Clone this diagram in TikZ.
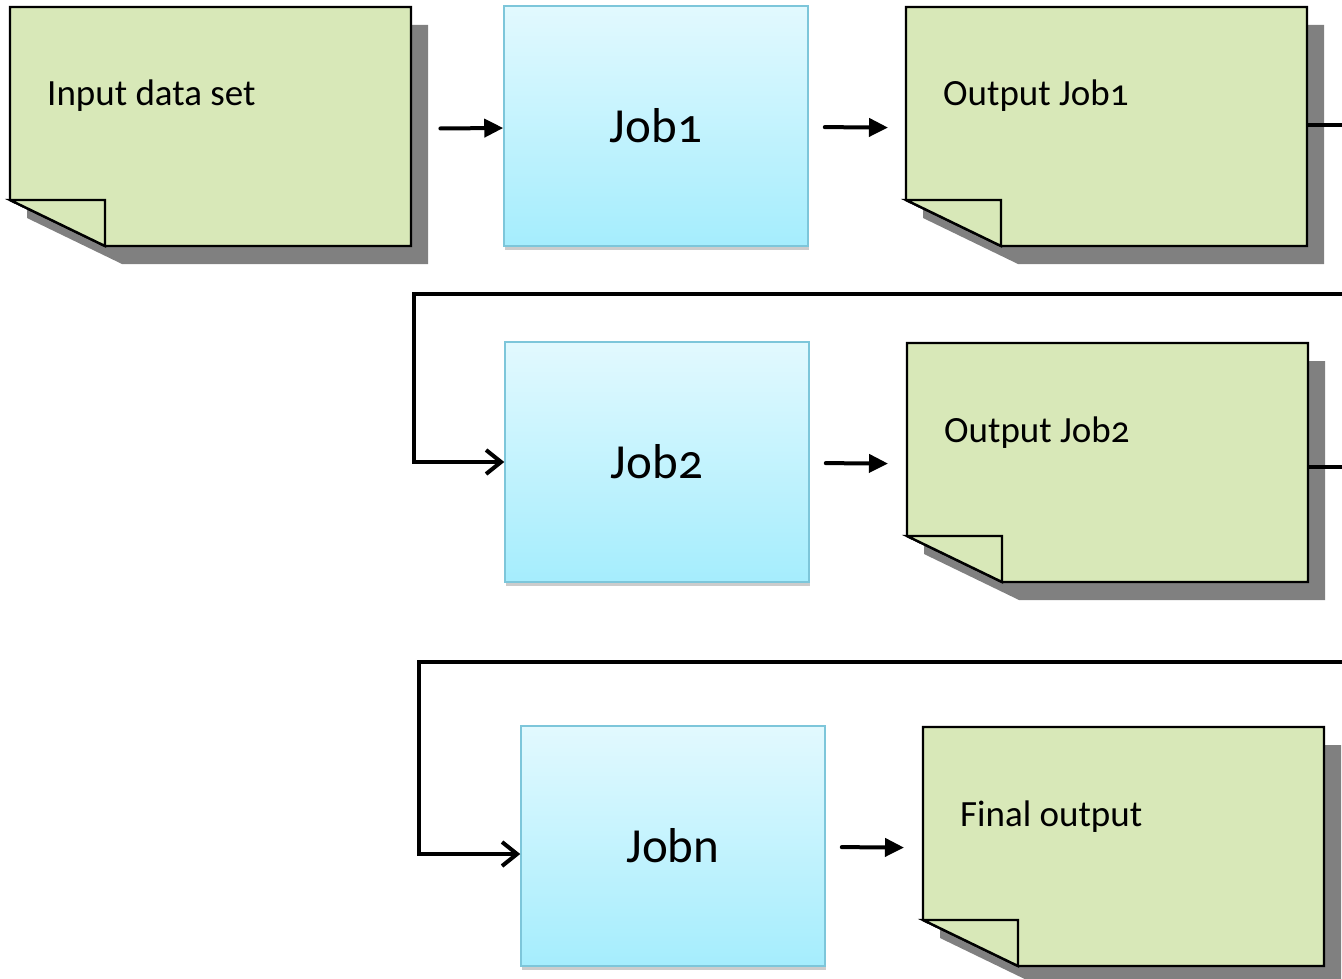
\documentclass[tikz,border=0pt]{standalone}
\usepackage{fontspec}
\setmainfont{Carlito}[Numbers=OldStyle]
\usetikzlibrary{
    arrows.meta,
    positioning,
    calc,
    shadows
}
\definecolor{notegreen}{HTML}{D8E8B8}
\definecolor{noteshadow}{HTML}{808080}
\definecolor{jobtop}{HTML}{E2F9FE}
\definecolor{jobbottom}{HTML}{A5EDFD}
\definecolor{jobedge}{HTML}{7DC6DA}
\newcommand{\notepaper}[4]{%
    \fill[noteshadow] ($(#2,#3)+(17,18)$) -- ++(401,0) -- ++(0,239) -- ++(-306,0) -- ++(-95,-46) -- cycle;
    \draw[notebody] (#2,#3) -- ++(401,0) -- ++(0,239) -- ++(-306,0) -- ++(-95,-46) -- cycle;
    \draw[notebody] ($(#2,#3)+(0,193)$) -- ++(95,0) -- ++(0,46) -- cycle;
    \node[minimum width=401pt, minimum height=239pt, anchor=north west, inner sep=0pt] (#1) at (#2,#3) {};
    \node[notetext, anchor=base west] (#1-text) at ($(#1.north west)+(37,99)$) {#4};
}

\begin{document}
\begin{tikzpicture}[x=1pt, y=-1pt,
    notebody/.style={draw, line width=2.4pt, fill=notegreen, line join=miter},
    notetext/.style={font=\fontsize{37}{42}\selectfont, inner sep=0pt},
    jobbox/.style={draw=jobedge, line width=1.5pt, rectangle, top color=jobtop, bottom color=jobbottom,
        minimum width=304pt, minimum height=240pt, font=\fontsize{49}{54}\selectfont,
        drop shadow={shadow xshift=1pt, shadow yshift=-4pt, opacity=0.2, fill=black}},
    flowarrow/.style={-{Triangle[length=19pt, width=18pt]}, line width=4pt, line cap=round},
    loopline/.style={line width=4pt, -{Straight Barb[length=15pt, width=24pt, line width=4pt]}}
]
\useasboundingbox (0,0) rectangle (1342,979);

% documents
\notepaper{input}{10}{7}{Input data set}
\notepaper{out1}{906}{7}{Output Job1}
\notepaper{out2}{907}{343}{Output Job2}
\notepaper{final}{923}{727}{Final output}

% jobs
\node[jobbox] (job1) at (656,126) {Job1};
\node[jobbox] (job2) at (657,462) {Job2};
\node[jobbox] (jobn) at (673,846) {Jobn};

\coordinate (edge1) at (1342,125);
\coordinate (edge2) at (1342,294);
\coordinate (edge3) at (1342,467);
\coordinate (edge4) at (1342,662);
\coordinate (turn2) at (414,294);
\coordinate (turn3) at (419,662);

\draw[flowarrow, shorten <=29pt] ([yshift=-2pt]input.east) -- ([yshift=-2pt]job1.west);
\draw[flowarrow, shorten <=16pt, shorten >=18pt] ([yshift=-1pt]job1.east) -- ([yshift=-1pt]out1.west);
\draw[flowarrow, shorten <=16pt, shorten >=19pt] ([yshift=-1pt]job2.east) -- ([yshift=-1pt]out2.west);
\draw[flowarrow, shorten <=16pt, shorten >=19pt] ([yshift=-1pt]jobn.east) -- ([yshift=-1pt]final.west);

\draw[line width=4pt] (out1.east |- edge1) -- (edge1);
\draw[line width=4pt] (out2.east |- edge3) -- (edge3);
\draw[loopline] (edge2) -- (turn2) |- (job2.west);
\draw[loopline] (edge4) -- (turn3) |- ([yshift=-8pt]jobn.west);
\end{tikzpicture}
\end{document}
